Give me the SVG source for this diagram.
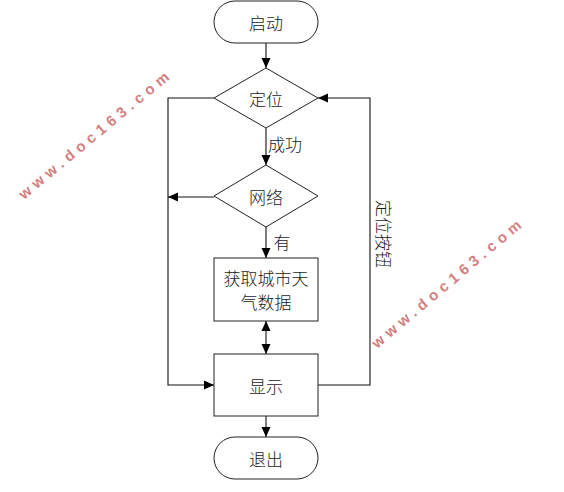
<svg xmlns="http://www.w3.org/2000/svg" width="564" height="492" viewBox="0 0 564 492">
<style>
.shape{fill:#fff;stroke:#222;stroke-width:1}
.t{font-family:"Noto Sans CJK SC","Noto Sans",sans-serif;font-size:17px;font-weight:300;fill:#1a1a1a;text-anchor:middle;dominant-baseline:central}
.line{fill:none;stroke:#111;stroke-width:1.1}
.wm{font-family:"Liberation Sans",Arial,sans-serif;font-size:15px;font-weight:bold;fill:#d38080;}
</style>
<defs>
<marker id="ah" viewBox="0 0 10 10" refX="10" refY="5" markerWidth="10" markerHeight="10" markerUnits="userSpaceOnUse" orient="auto-start-reverse">
<path d="M0,0.5 L10,5 L0,9.5 Z" fill="#000"/>
</marker>
</defs>
<rect width="564" height="492" fill="#fff"/>
<g id="connectors">
<line class="line" x1="266" y1="43" x2="266" y2="68" marker-end="url(#ah)"/>
<line class="line" x1="266" y1="128" x2="266" y2="165" marker-end="url(#ah)"/>
<line class="line" x1="266" y1="227" x2="266" y2="258" marker-end="url(#ah)"/>
<line class="line" x1="266" y1="321" x2="266" y2="354" marker-start="url(#ah)" marker-end="url(#ah)"/>
<line class="line" x1="266" y1="416" x2="266" y2="437" marker-end="url(#ah)"/>
<polyline class="line" points="214,98 168,98 168,385 214,385" marker-end="url(#ah)"/>
<line class="line" x1="214" y1="197" x2="168" y2="197" marker-end="url(#ah)"/>
<polyline class="line" points="318,385 370,385 370,98 318,98" marker-end="url(#ah)"/>
<text class="t" x="285" y="143">成功</text>
<text class="t" x="282" y="241">有</text>
<text class="t" transform="translate(384,234) rotate(90)">定位按钮</text>
</g>
<g id="start">
<rect class="shape" x="214" y="1" width="104" height="42" rx="21" ry="21"/>
<text class="t" x="266" y="22">启动</text>
</g>
<g id="locate">
<polygon class="shape" points="266,68 318,98 266,128 214,98"/>
<text class="t" x="266" y="98">定位</text>
</g>
<g id="network">
<polygon class="shape" points="266,165 318,196 266,227 214,196"/>
<text class="t" x="266" y="196">网络</text>
</g>
<g id="fetch">
<rect class="shape" x="214" y="258" width="104" height="63"/>
<text class="t" x="266" y="277">获取城市天</text>
<text class="t" x="266" y="301">气数据</text>
</g>
<g id="display">
<rect class="shape" x="214" y="354" width="104" height="62"/>
<text class="t" x="266" y="385">显示</text>
</g>
<g id="exit">
<rect class="shape" x="214" y="437" width="104" height="42" rx="21" ry="21"/>
<text class="t" x="266" y="458">退出</text>
</g>
<g id="watermarks">
<text class="wm" transform="translate(24,200) rotate(-39.7)" textLength="190" lengthAdjust="spacing">www.doc163.com</text>
<text class="wm" transform="translate(377,349) rotate(-40)" textLength="190" lengthAdjust="spacing">www.doc163.com</text>
</g>
</svg>
